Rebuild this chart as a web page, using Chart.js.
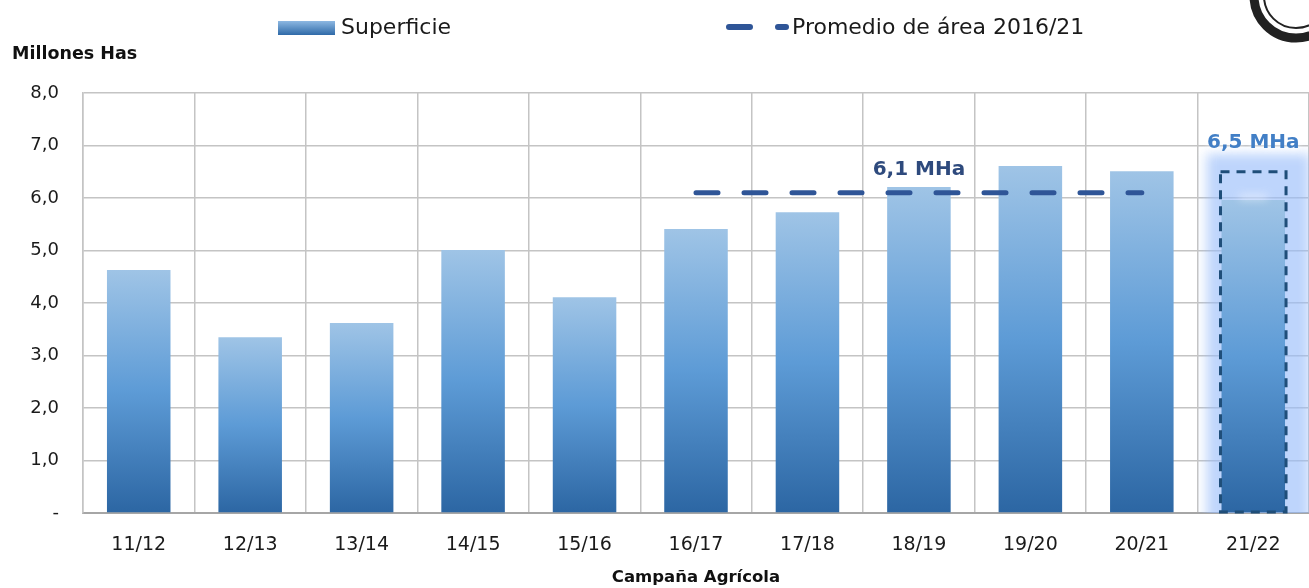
<!DOCTYPE html>
<html>
<head>
<meta charset="utf-8">
<script src="https://cdn.jsdelivr.net/npm/chart.js@4/dist/chart.umd.min.js"></script>
<style>
  html, body { margin: 0; padding: 0; background: #fff; }
  #wrap { width: 1309px; height: 588px; position: relative; }
</style>
</head>
<body>
<div id="wrap"><canvas id="chart"></canvas></div>
<script>
// datos
var campanias  = ['11/12','12/13','13/14','14/15','15/16','16/17','17/18','18/19','19/20','20/21','21/22'];
var superficie = [4.63, 3.35, 3.62, 5.01, 4.11, 5.41, 5.73, 6.21, 6.61, 6.51, 5.96];
var promedio   = [null, null, null, null, null, 6.1, 6.1, 6.1, 6.1, 6.1, null];
var yTicks     = [0, 1, 2, 3, 4, 5, 6, 7, 8];
var proyeccion = 6.5;        // estimacion 21/22
var idxProyeccion = 10;
var idxEtiquetaProm = 7;
var etiquetaProm = '6,1 MHa';
var etiquetaProy = '6,5 MHa';
var leyenda = ['Superficie', 'Promedio de área 2016/21'];

var FONT = '"DejaVu Sans", Verdana, sans-serif';

function barFill( ctx ){
    var chart = ctx.chart, area = chart.chartArea;
    if( !area ) return '#5b9bd5';
    var top = chart.scales.y.getPixelForValue( ctx.raw );
    var g = chart.ctx.createLinearGradient( 0, top, 0, area.bottom );
    g.addColorStop( 0, '#9fc4e6' );
    g.addColorStop( 0.5, '#5d9bd6' );
    g.addColorStop( 1, '#2c66a3' );
    return g;
}

var extras = {
    id: 'extras',
    beforeDatasetsDraw: function( chart ){
        var c = chart.ctx, area = chart.chartArea,
            x = chart.scales.x, y = chart.scales.y,
            cx = x.getPixelForValue( idxProyeccion ),
            w = x.width / campanias.length,
            top = y.getPixelForValue( proyeccion ) - 18;
        // resplandor detras de la campania proyectada
        c.save();
        c.beginPath();
        c.rect( cx - w / 2, 0, w + 10, area.bottom );
        c.clip();
        c.filter = 'blur(6px)';
        c.fillStyle = 'rgba(150,188,250,0.62)';
        c.fillRect( cx - w / 2 + 9, top, w - 8, area.bottom - top + 20 );
        c.restore();
    },
    afterDatasetsDraw: function( chart ){
        var c = chart.ctx, area = chart.chartArea,
            x = chart.scales.x, y = chart.scales.y,
            bar = chart.getDatasetMeta( 0 ).data[ idxProyeccion ],
            left = bar.x - bar.width / 2, right = bar.x + bar.width / 2,
            top = y.getPixelForValue( proyeccion );

        // brillo blanco sobre la barra proyectada
        var by = y.getPixelForValue( superficie[ idxProyeccion ] );
        c.save();
        c.filter = 'blur(4px)';
        c.fillStyle = 'rgba(255,255,255,0.7)';
        c.fillRect( bar.x - 14, by - 5, 28, 4 );
        c.restore();

        // recuadro punteado 6,5
        c.save();
        c.strokeStyle = '#1f4e79';
        c.lineWidth = 3;
        c.setLineDash( [ 9, 7 ] );
        c.strokeRect( left - 1, top, right - left + 2, area.bottom - top - 1 );
        c.restore();

        // etiquetas de valores
        c.save();
        c.font = 'bold 20px ' + FONT;
        c.textAlign = 'center';
        c.textBaseline = 'middle';
        c.fillStyle = '#2e4a7d';
        c.fillText( etiquetaProm, x.getPixelForValue( idxEtiquetaProm ), y.getPixelForValue( 6.1 ) - 23 );
        c.shadowColor = 'rgba(255,255,255,0.9)';
        c.shadowBlur = 6;
        c.fillStyle = '#427fc6';
        c.fillText( etiquetaProy, bar.x, top - 29 );
        c.restore();
    },
    afterDraw: function( chart ){
        var c = chart.ctx;
        c.save();
        // titulo eje y
        c.font = 'bold 17.5px ' + FONT;
        c.fillStyle = '#111';
        c.textBaseline = 'middle';
        c.fillText( 'Millones Has', 12, 54 );

        // leyenda
        var g = c.createLinearGradient( 0, 21, 0, 35 );
        g.addColorStop( 0, '#8db8e2' );
        g.addColorStop( 1, '#2f6aa8' );
        c.fillStyle = g;
        c.fillRect( 278, 21, 57, 14 );
        c.font = '22px ' + FONT;
        c.fillStyle = '#1a1a1a';
        c.fillText( leyenda[0], 341, 28 );

        c.strokeStyle = '#2f5597';
        c.lineWidth = 6;
        c.lineCap = 'round';
        c.beginPath();
        c.moveTo( 729, 27 ); c.lineTo( 750, 27 );
        c.moveTo( 778, 27 ); c.lineTo( 786, 27 );
        c.stroke();
        c.fillText( leyenda[1], 792, 28 );

        // logo (recorte)
        c.beginPath();
        c.arc( 1296, -4, 42, 0, Math.PI * 2 );
        c.lineWidth = 9;
        c.strokeStyle = '#222';
        c.stroke();
        c.beginPath();
        c.arc( 1296, -4, 32, 0, Math.PI * 2 );
        c.lineWidth = 2;
        c.stroke();
        c.restore();
    }
};

new Chart( document.getElementById( 'chart' ).getContext( '2d' ), {
    type: 'bar',
    data: {
        labels: campanias,
        datasets: [
            {
                type: 'bar',
                label: leyenda[0],
                data: superficie,
                backgroundColor: barFill,
                borderWidth: 0,
                barPercentage: 0.57,
                categoryPercentage: 1,
                order: 2
            },
            {
                type: 'line',
                label: leyenda[1],
                data: promedio,
                borderColor: '#2f5597',
                borderWidth: 5,
                borderDash: [ 22, 26 ],
                borderCapStyle: 'round',
                pointRadius: 0,
                fill: false,
                order: 1
            }
        ]
    },
    options: {
        responsive: true,
        maintainAspectRatio: false,
        animation: false,
        layout: { padding: { top: 93, left: 0, right: 0, bottom: 0 } },
        plugins: {
            legend: { display: false },
            tooltip: { enabled: false }
        },
        scales: {
            x: {
                grid: { color: '#c4c4c4', lineWidth: 1.5, drawTicks: false, offset: true },
                border: { color: '#a6a6a6', width: 2 },
                ticks: { color: '#1a1a1a', font: { family: FONT, size: 19 }, padding: 21 },
                title: { display: true, text: 'Campaña Agrícola', color: '#111',
                         font: { family: FONT, size: 16.5, weight: 'bold' }, padding: { top: 4, bottom: 0 } },
                afterFit: function( s ){ s.height = 75; }
            },
            y: {
                min: 0,
                max: 8,
                afterBuildTicks: function( s ){ s.ticks = yTicks.map( function( v ){ return { value: v }; } ); },
                grid: { color: '#c4c4c4', lineWidth: 1.5, drawTicks: false },
                border: { color: '#c4c4c4', width: 1.5 },
                ticks: {
                    color: '#1a1a1a',
                    font: { family: FONT, size: 18 },
                    padding: 24,
                    callback: function( v ){ return v === 0 ? '-' : v.toFixed( 1 ).replace( '.', ',' ); }
                },
                afterFit: function( s ){ s.width = 83; }
            }
        }
    },
    plugins: [ extras ]
} );
</script>
</body>
</html>
